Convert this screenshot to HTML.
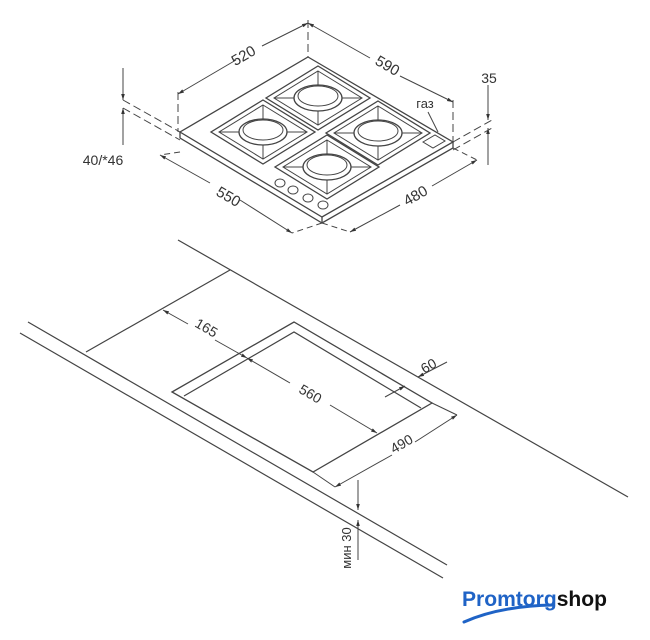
<!DOCTYPE html>
<html><head><meta charset="utf-8"><style>
html,body{margin:0;padding:0;background:#fff;}
svg{display:block;}
text{font-family:"Liberation Sans","DejaVu Sans",sans-serif;fill:#333;}
</style></head><body>
<svg width="650" height="640" viewBox="0 0 650 640" xmlns="http://www.w3.org/2000/svg">
<defs>
<marker id="a" viewBox="0 0 10 10" refX="10" refY="5" markerWidth="6" markerHeight="6" orient="auto-start-reverse"><path d="M0,2 L10,5 L0,8z" fill="#333"/></marker>
<g id="burner">
<path d="M0,-32 L52,0 L0,32 L-52,0Z" fill="none" stroke="#444" stroke-width="1.3"/>
<path d="M0,-27 L44,0 L0,27 L-44,0Z" fill="none" stroke="#444" stroke-width="1"/>
<line x1="0" y1="-27" x2="0" y2="27" stroke="#444" stroke-width="1"/>
<line x1="-44" y1="0" x2="44" y2="0" stroke="#444" stroke-width="1"/>
<ellipse cx="0" cy="0" rx="24" ry="13" fill="#fff" stroke="#444" stroke-width="1.3"/>
<ellipse cx="0" cy="-2" rx="20" ry="10" fill="#fff" stroke="#444" stroke-width="1"/>
</g>
</defs>
<g stroke="#444" stroke-width="1.3" fill="none">
<path d="M308,57 L453,142 L322,217 L180,132Z" fill="#fff"/>
<path d="M180,132 L180,138 L322,223 L453,148 L453,142"/>
<line x1="322" y1="217" x2="322" y2="223"/>
</g>
<use href="#burner" x="318" y="98"/>
<use href="#burner" x="263" y="132"/>
<use href="#burner" x="378" y="133"/>
<use href="#burner" x="327" y="167"/>
<g stroke="#444" stroke-width="1" fill="#fff">
<ellipse cx="280" cy="183" rx="5" ry="4"/><ellipse cx="293" cy="190" rx="5" ry="4"/>
<ellipse cx="308" cy="198" rx="5" ry="4"/><ellipse cx="323" cy="205" rx="5" ry="4"/>
<path d="M423,142 L435,135 L445,141 L433,148Z"/>
</g>
<g stroke="#444" stroke-width="1" fill="none">
<line x1="308" y1="20" x2="308" y2="57" stroke-dasharray="8,4"/>
<line x1="178" y1="92" x2="178" y2="132" stroke-dasharray="8,4"/>
<line x1="453" y1="100" x2="453" y2="142" stroke-dasharray="8,4"/>
<line x1="236" y1="60" x2="178" y2="94" marker-end="url(#a)"/>
<line x1="262" y1="46" x2="308" y2="23" marker-end="url(#a)"/>
<line x1="308" y1="23" x2="370" y2="58" marker-start="url(#a)"/>
<line x1="400" y1="76" x2="453" y2="102" marker-end="url(#a)"/>
<line x1="123" y1="68" x2="123" y2="100" marker-end="url(#a)"/>
<line x1="123" y1="145" x2="123" y2="108" marker-end="url(#a)"/>
<line x1="123" y1="100" x2="180" y2="132" stroke-dasharray="8,4"/>
<line x1="123" y1="108" x2="180" y2="140" stroke-dasharray="8,4"/>
<line x1="160" y1="155" x2="210" y2="183" marker-start="url(#a)"/>
<line x1="240" y1="200" x2="292" y2="233" marker-end="url(#a)"/>
<line x1="180" y1="152" x2="160" y2="155" stroke-dasharray="6,4"/>
<line x1="322" y1="223" x2="292" y2="233" stroke-dasharray="6,4"/>
<line x1="322" y1="223" x2="350" y2="232" stroke-dasharray="6,4"/>
<line x1="453" y1="148" x2="477" y2="160" stroke-dasharray="6,4"/>
<line x1="350" y1="232" x2="400" y2="205" marker-start="url(#a)"/>
<line x1="432" y1="186" x2="477" y2="160" marker-end="url(#a)"/>
<line x1="488" y1="85" x2="488" y2="120" marker-end="url(#a)"/>
<line x1="488" y1="165" x2="488" y2="128" marker-end="url(#a)"/>
<line x1="453" y1="142" x2="492" y2="120" stroke-dasharray="8,4"/>
<line x1="453" y1="150" x2="492" y2="128" stroke-dasharray="8,4"/>
<line x1="428" y1="112" x2="438" y2="132"/>
<line x1="178" y1="240" x2="628" y2="497" stroke-width="1.2"/>
<line x1="28" y1="322" x2="447" y2="565" stroke-width="1.2"/>
<line x1="20" y1="333" x2="443" y2="578" stroke-width="1.2"/>
<line x1="86" y1="352" x2="230" y2="270" stroke-width="1.2"/>
<path d="M172,392 L294,322 L432,403 L313,472 Z" stroke-width="1.3"/>
<path d="M184,396 L294,332 L421,408" stroke-width="1.2"/>
<line x1="313" y1="472" x2="335" y2="487"/>
<line x1="432" y1="403" x2="457" y2="415"/>
<line x1="335" y1="487" x2="392" y2="455" marker-start="url(#a)"/>
<line x1="415" y1="442" x2="457" y2="415" marker-end="url(#a)"/>
<line x1="188" y1="324" x2="163" y2="310" marker-end="url(#a)"/>
<line x1="215" y1="340" x2="247" y2="358" marker-end="url(#a)"/>
<line x1="247" y1="358" x2="290" y2="383" marker-start="url(#a)"/>
<line x1="330" y1="405" x2="377" y2="433" marker-end="url(#a)"/>
<line x1="385" y1="397" x2="405" y2="386" marker-end="url(#a)"/>
<line x1="447" y1="362" x2="418" y2="377" marker-end="url(#a)"/>
<line x1="358" y1="480" x2="358" y2="510" marker-end="url(#a)"/>
<line x1="358" y1="560" x2="358" y2="520" marker-end="url(#a)"/>
</g>
<g font-size="15">
<text transform="translate(246,60) rotate(-30)" text-anchor="middle">520</text>
<text transform="translate(385,70) rotate(30)" text-anchor="middle">590</text>
<text transform="translate(226,201) rotate(30)" text-anchor="middle">550</text>
<text transform="translate(418,200) rotate(-30)" text-anchor="middle">480</text>
<text x="103" y="165" text-anchor="middle" font-size="14">40/*46</text>
<text x="489" y="83" text-anchor="middle" font-size="14">35</text>
<text x="425" y="108" text-anchor="middle" font-size="13">газ</text>
<text transform="translate(204,332) rotate(30)" text-anchor="middle" font-size="14">165</text>
<text transform="translate(308,398) rotate(30)" text-anchor="middle" font-size="14">560</text>
<text transform="translate(431,370) rotate(-30)" text-anchor="middle" font-size="14">60</text>
<text transform="translate(404,448) rotate(-30)" text-anchor="middle" font-size="14">490</text>
<text transform="translate(351,548) rotate(-90)" text-anchor="middle" font-size="13">мин 30</text>
</g>
<text x="462" y="606" font-size="21" font-weight="bold" textLength="145" lengthAdjust="spacingAndGlyphs" style="fill:#1f63c6">Promtorg<tspan style="fill:#111">shop</tspan></text>
<path d="M464,622 Q500,606 553,605" stroke="#1f63c6" stroke-width="3" fill="none" stroke-linecap="round"/>
</svg>
</body></html>
